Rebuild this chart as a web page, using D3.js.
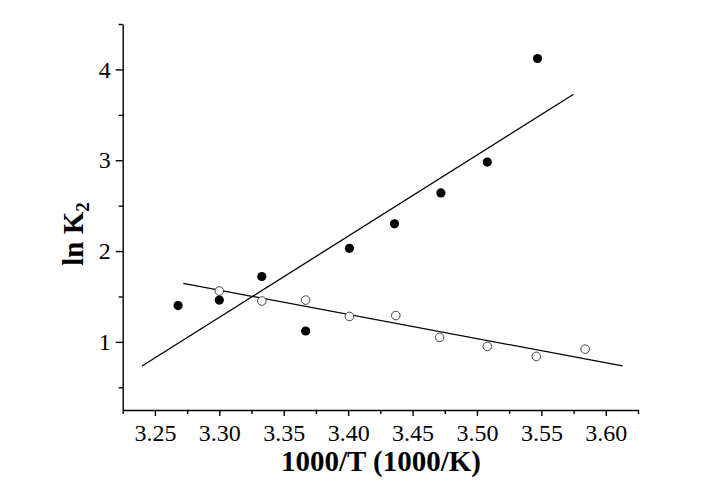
<!DOCTYPE html>
<html>
<head>
<meta charset="utf-8">
<script src="https://cdn.jsdelivr.net/npm/d3@7"></script>
<style>
  html, body { margin: 0; padding: 0; background: #fff; }
  svg { display: block; }
  text { font-family: "Liberation Serif", "Times New Roman", serif; fill: #000; }
</style>
</head>
<body>
<svg id="chart" width="709" height="494"></svg>
<script>
// ---- data ----
const filledX = [3.268, 3.300, 3.333, 3.367, 3.401, 3.436, 3.472, 3.508, 3.547];
const filledY = [1.40, 1.46, 1.72, 1.12, 2.03, 2.30, 2.64, 2.98, 4.12];
const openX   = [3.300, 3.333, 3.367, 3.401, 3.437, 3.471, 3.508, 3.546, 3.584];
const openY   = [1.56, 1.45, 1.46, 1.28, 1.29, 1.05, 0.95, 0.84, 0.92];
// fitted lines (end points)
const fitFilledX = [3.240, 3.575];
const fitFilledY = [0.735, 3.726];
const fitOpenX   = [3.272, 3.613];
const fitOpenY   = [1.644, 0.735];
// ticks
const xMajorTicks = [3.25, 3.30, 3.35, 3.40, 3.45, 3.50, 3.55, 3.60];
const xMinorTicks = [3.225, 3.275, 3.325, 3.375, 3.425, 3.475, 3.525, 3.575, 3.625];
const yMajorTicks = [1, 2, 3, 4];
const yMinorTicks = [0.5, 1.5, 2.5, 3.5, 4.5];
const xDomain = [3.225, 3.625];
const yDomain = [0.25, 4.5];
const xTitle = "1000/T (1000/K)";
const yTitleMain = "ln K";
const yTitleSub = "2";

// ---- layout ----
const svg = d3.select("#chart");
const mLeft = 122.7, mRight = 638, mTop = 24, mBottom = 410;
const x = d3.scaleLinear().domain(xDomain).range([mLeft, mRight]);
const y = d3.scaleLinear().domain(yDomain).range([mBottom, mTop]);

const axisW = 1.4;
const serif = '"Liberation Serif", "Times New Roman", Times, serif';

// x axis major
svg.append("g").attr("transform", `translate(0,${mBottom})`)
  .call(d3.axisBottom(x).tickValues(xMajorTicks).tickSizeInner(6).tickSizeOuter(0).tickPadding(8)
    .tickFormat(d3.format(".2f")));
// x minor
svg.append("g").attr("transform", `translate(0,${mBottom})`)
  .call(d3.axisBottom(x).tickValues(xMinorTicks).tickSizeInner(4).tickSizeOuter(0).tickFormat(""))
  .call(g => g.select(".domain").remove());

// y axis major
svg.append("g").attr("transform", `translate(${mLeft},0)`)
  .call(d3.axisLeft(y).tickValues(yMajorTicks).tickSizeInner(7).tickSizeOuter(0).tickPadding(5)
    .tickFormat(d3.format("d")));
svg.append("g").attr("transform", `translate(${mLeft},0)`)
  .call(d3.axisLeft(y).tickValues(yMinorTicks).tickSizeInner(4).tickSizeOuter(0).tickFormat(""))
  .call(g => g.select(".domain").remove());

svg.selectAll("g").attr("font-family", serif).attr("font-size", 24);
svg.selectAll(".domain, .tick line").attr("stroke", "#000").attr("stroke-width", axisW);
svg.selectAll(".tick text").style("font-family", serif)
  .style("font-size", "24px").attr("fill", "#000");

// ---- fit lines ----
const line = d3.line().x(d => x(d[0])).y(d => y(d[1]));
svg.append("path").datum(d3.zip(fitFilledX, fitFilledY))
  .attr("d", line).attr("fill", "none").attr("stroke", "#000").attr("stroke-width", 1.3);
svg.append("path").datum(d3.zip(fitOpenX, fitOpenY))
  .attr("d", line).attr("fill", "none").attr("stroke", "#000").attr("stroke-width", 1.3);

// ---- points ----
svg.append("g").selectAll("circle").data(d3.zip(openX, openY)).join("circle")
  .attr("cx", d => x(d[0])).attr("cy", d => y(d[1])).attr("r", 4.3)
  .attr("fill", "#fff").attr("stroke", "#444").attr("stroke-width", 1);
svg.append("g").selectAll("circle").data(d3.zip(filledX, filledY)).join("circle")
  .attr("cx", d => x(d[0])).attr("cy", d => y(d[1])).attr("r", 4.6)
  .attr("fill", "#000");

// ---- titles ----
svg.append("text").attr("x", 381).attr("y", 471).attr("text-anchor", "middle")
  .style("font-family", serif)
  .style("font-size", "29px").style("font-weight", "bold").text(xTitle);

const yt = svg.append("text").attr("transform", "translate(83,234) rotate(-90)")
  .attr("text-anchor", "middle").style("font-family", serif)
  .style("font-size", "29px").style("font-weight", "bold");
yt.append("tspan").text(yTitleMain);
yt.append("tspan").attr("dy", "0.3em").style("font-size", "19px").text(yTitleSub);
</script>
</body>
</html>
